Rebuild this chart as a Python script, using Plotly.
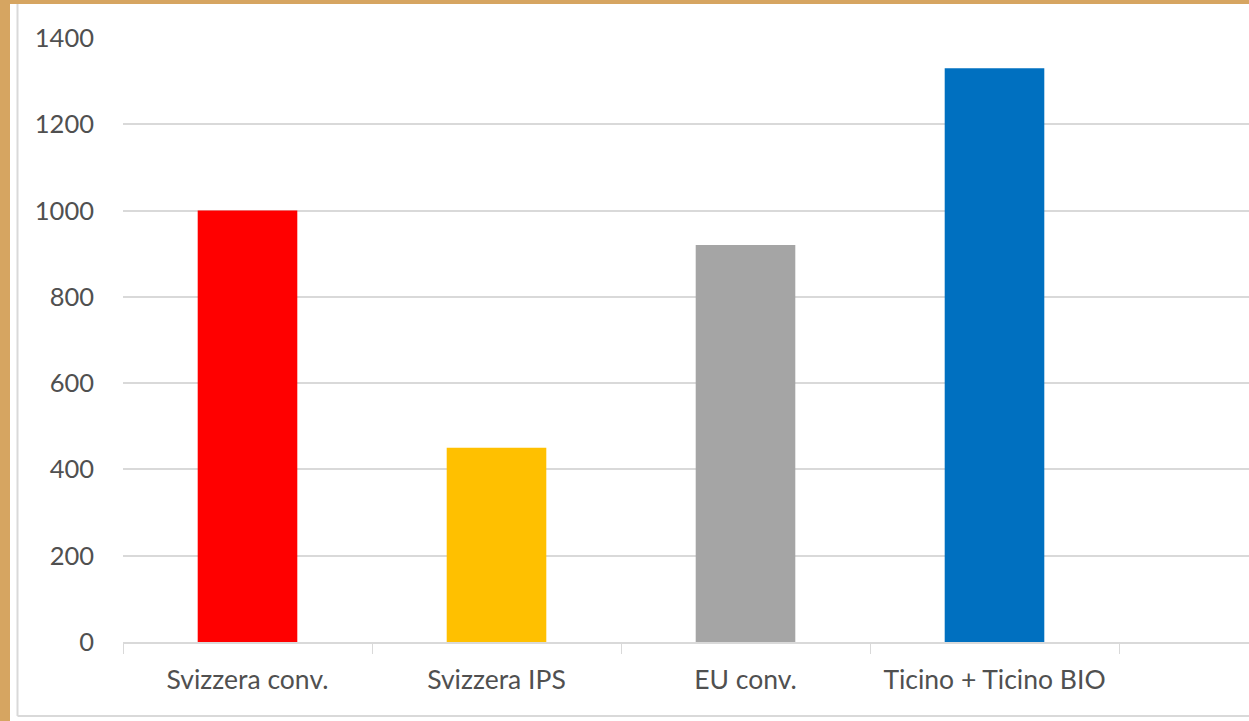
import plotly.graph_objects as go

categories = ["Svizzera conv.", "Svizzera IPS", "EU conv.", "Ticino + Ticino BIO"]
values = [1000, 450, 920, 1330]
colors = ["#FF0000", "#FFC000", "#A5A5A5", "#0070C0"]
y_ticks = [0, 200, 400, 600, 800, 1000, 1200, 1400]

W, H = 1249, 721
L, R, T, B = 123, 0, 38, 79
pw, ph = W - L - R, H - T - B

def px(x):
    return (x - L) / pw

def py(y):
    return (H - B - y) / ph

fig = go.Figure(go.Bar(
    x=categories, y=values, marker=dict(color=colors, line=dict(width=0)),
    width=0.4, hoverinfo="skip"))

font = "Lato, Open Sans, sans-serif"
fig.update_layout(
    width=W, height=H,
    margin=dict(l=L, r=R, t=T, b=B),
    paper_bgcolor="#D6A561",
    plot_bgcolor="rgba(0,0,0,0)",
    showlegend=False,
    font=dict(family=font, color="#505050", size=25),
    shapes=[
        dict(type="rect", xref="paper", yref="paper", x0=px(10), x1=px(W + 5),
             y0=py(H + 5), y1=py(4), fillcolor="white", line=dict(width=0), layer="below"),
        dict(type="line", xref="paper", yref="paper", x0=px(17.5), x1=px(17.5),
             y0=py(716), y1=py(4), line=dict(color="#D9D9D9", width=2), layer="below"),
        dict(type="line", xref="paper", yref="paper", x0=px(17.5), x1=px(W + 5),
             y0=py(716), y1=py(716), line=dict(color="#D9D9D9", width=2), layer="below"),
    ],
)
fig.update_xaxes(
    type="category", range=[-0.5, -0.5 + pw / 249.0],
    tickson="boundaries", ticks="outside", ticklen=10, tickcolor="#D9D9D9",
    showline=True, linecolor="#D9D9D9", linewidth=1.5,
    showgrid=False, tickfont=dict(size=26.5, color="#505050"),
    ticklabelstandoff=13, fixedrange=True,
)
fig.update_yaxes(
    range=[0, 1400], tickvals=y_ticks, ticktext=[str(v) for v in y_ticks],
    showgrid=True, gridcolor="#D9D9D9", gridwidth=1.5, zeroline=False,
    showline=False, ticks="", tickfont=dict(size=25.5, color="#505050"),
    ticklabelstandoff=28, fixedrange=True,
)
fig.write_html("out.html", config={"displayModeBar": False},
               post_script="document.body.style.margin='0';document.body.style.padding='0';")
